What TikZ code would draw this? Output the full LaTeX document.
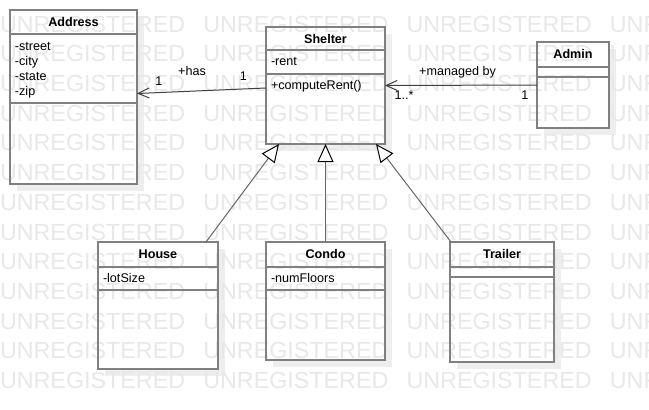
\documentclass[tikz,border=0pt]{standalone}
\usepackage{fontspec}
\setmainfont{Liberation Sans}
\usetikzlibrary{arrows.meta,backgrounds}
\definecolor{bord}{RGB}{128,128,128}
\definecolor{ombre}{RGB}{238,238,238}
\definecolor{filgris}{RGB}{232,232,232}

\begin{document}
\begin{tikzpicture}[x=1pt, y=-1pt,
    every node/.style={inner sep=0pt, outer sep=0pt, font=\fontsize{12.6}{15}\selectfont},
    classe/.style={rectangle, draw=bord, line width=1.6pt},
    cloison/.style={draw=bord, line width=1.6pt},
    titre/.style={anchor=base, font=\fontsize{12.6}{15}\selectfont\bfseries},
    membre/.style={anchor=base west},
    assoc/.style={draw=black!75, line width=1pt, -{Straight Barb[length=11pt, width=10pt]}},
    herit/.style={draw=black!60, line width=1pt, -{Triangle[length=18pt, width=16pt, color=black, fill=white]}},
    filigrane/.style={anchor=base west, text=filgris, font=\fontsize{23.3}{23.3}\selectfont}]
    \useasboundingbox (0,0) rectangle (649,410);
    % classes
    \node[classe, minimum width=127pt, minimum height=174pt] (address) at (73.5,97) {};
    \node[classe, minimum width=119pt, minimum height=117pt] (shelter) at (325.5,85.5) {};
    \node[classe, minimum width=72pt, minimum height=86pt] (admin) at (573,85) {};
    \node[classe, minimum width=120pt, minimum height=127pt] (house) at (158,305.5) {};
    \node[classe, minimum width=119pt, minimum height=118pt] (condo) at (325.5,301) {};
    \node[classe, minimum width=104pt, minimum height=120pt] (trailer) at (502,302) {};
    % compartiments
    \foreach \n/\a/\b in {address/34/103, shelter/50/74, admin/67/77,
                          house/267/290, condo/267/290, trailer/267/277} {
      \draw[cloison] (\n.west |- 0,\a) -- (\n.east |- 0,\a);
      \draw[cloison] (\n.west |- 0,\b) -- (\n.east |- 0,\b);
    }
    % noms et membres
    \foreach \n/\t in {address/Address, shelter/Shelter, admin/Admin,
                       house/House, condo/Condo, trailer/Trailer}
      \node[titre] (\n-titre) at ([yshift=-16.5pt]\n.north) {\t};
    \foreach \x/\y/\t [count=\i] in {15/50/-street, 15/65/-city, 15/80/-state, 15/95/-zip,
                                     271/65.7/-rent, 271/89.5/+computeRent(),
                                     103/282.5/-lotSize, 271/282.5/-numFloors}
      \node[membre] (membre-\i) at (\x,\y) {\t};
    % associations
    \draw[assoc] ([yshift=-2.5pt]shelter.west) -- ([yshift=3.5pt]address.east)
      node[pos=0.176, yshift=13.1pt] (has-s) {1}
      node[pos=0.573, yshift=20.2pt] (has-r) {+has}
      node[pos=0.83, yshift=11.9pt] (has-a) {1};
    \draw[assoc] (admin.west) -- (shelter.east)
      node[pos=0.079, yshift=-10pt] (man-a) {1}
      node[pos=0.523, yshift=13.3pt] (man-r) {+managed by}
      node[pos=0.875, yshift=-10pt] (man-s) {1..*};
    % héritage
    \draw[herit] ([xshift=-12pt]house.north east) -- ([xshift=-46.5pt]shelter.south);
    \draw[herit] (condo.north) -- (shelter.south);
    \draw[herit] ([xshift=1pt]trailer.north west) -- ([xshift=50.5pt]shelter.south);
    % fond, ombres et filigrane
    \begin{scope}[on background layer]
      \clip (0,0) rectangle (649,410);
      \fill[white] (0,0) rectangle (649,410);
      \foreach \n in {address, shelter, admin, house, condo, trailer} {
        \fill[ombre] ([shift={(7pt,-7pt)}]\n.south west) rectangle ([shift={(7pt,-7pt)}]\n.north east);
        \fill[white] (\n.south west) rectangle (\n.north east);
      }
      \foreach \l in {0,...,12}
        \foreach \c in {0,...,3}
          \node[filigrane] (fil-\l-\c) at (203.3*\c, 32.1+29.7*\l) {UNREGISTERED};
    \end{scope}
\end{tikzpicture}
\end{document}
